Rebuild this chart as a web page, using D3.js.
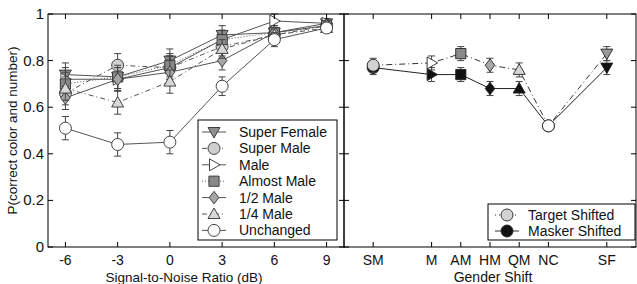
<!DOCTYPE html>
<html>
<head>
<meta charset="utf-8">
<script src="https://cdn.jsdelivr.net/npm/d3@7"></script>
<style>
  body { margin: 0; background: #fff; }
  text { font-family: "Liberation Sans", Arial, sans-serif; fill: #111; }
</style>
</head>
<body>
<svg id="chart" width="637" height="284"></svg>
<script>
// left panel: P(correct) vs SNR, one series per gender shift condition
const snr = [-6, -3, 0, 3, 6, 9];
const seriesNames = ["Super Female", "Super Male", "Male", "Almost Male", "1/2 Male", "1/4 Male", "Unchanged"];
const superFemale = [0.74, 0.73, 0.80, 0.91, 0.92, 0.96];
const superMale   = [0.66, 0.78, 0.77, 0.86, 0.91, 0.95];
const male        = [0.72, 0.72, 0.77, 0.89, 0.97, 0.96];
const almostMale  = [0.70, 0.73, 0.78, 0.89, 0.92, 0.95];
const halfMale    = [0.64, 0.72, 0.75, 0.80, 0.92, 0.95];
const quarterMale = [0.68, 0.62, 0.71, 0.85, 0.91, 0.94];
const unchanged   = [0.51, 0.44, 0.45, 0.69, 0.89, 0.94];
const snrErr      = [0.05, 0.05, 0.05, 0.04, 0.03, 0.02];
const snrTicks = [-6, -3, 0, 3, 6, 9];
const yTicks = [0, 0.2, 0.4, 0.6, 0.8, 1];

// right panel: target vs masker shifted
const shiftLabels = ["SM", "M", "AM", "HM", "QM", "NC", "SF"];
const targetShifted = [0.78, 0.79, 0.83, 0.78, 0.76, 0.52, 0.83];
const maskerShifted = [0.77, 0.74, 0.74, 0.68, 0.68, 0.52, 0.77];
const shiftErr = [0.03, 0.03, 0.03, 0.03, 0.03, 0.02, 0.03];
const shiftNames = ["Target Shifted", "Masker Shifted"];

const leftData = [superFemale, superMale, male, almostMale, halfMale, quarterMale, unchanged];

// styles (not data)
const leftStyle = [
  { shape: "down", fill: "#8e8e8e", dash: null },
  { shape: "circle", fill: "#cfcfcf", dash: "5,3,1,3" },
  { shape: "right", fill: "#fff", dash: null },
  { shape: "square", fill: "#888", dash: "1,2" },
  { shape: "diamond", fill: "#a5a5a5", dash: null },
  { shape: "up", fill: "#d8d8d8", dash: "5,3,1,3" },
  { shape: "circle", fill: "#fff", dash: null }
];
const shiftShapes = ["circle", "right", "square", "diamond", "up", "circle", "down"];
const targetFills = ["#d2d2d2", "#fff", "#8a8a8a", "#a8a8a8", "#d6d6d6", "#fff", "#999"];

const svg = d3.select("#chart");
const plotTop = 14, plotBottom = 247;
const leftX0 = 48, midX = 344, rightX1 = 636;

const y = d3.scaleLinear().domain([0, 1]).range([plotBottom, plotTop]);
const xSnr = d3.scaleLinear().domain([-7, 10]).range([leftX0, midX]);
const xShiftLin = d3.scaleLinear().domain([0, 10]).range([midX, rightX1]);
const xShift = d3.scaleOrdinal().domain(shiftLabels).range([1, 3, 4, 5, 6, 7, 9].map(xShiftLin));

function shapePath(shape, r) {
  switch (shape) {
    case "circle": return d3.symbol(d3.symbolCircle, Math.PI * r * r)();
    case "square": { const s = r * 0.85; return `M${-s},${-s}H${s}V${s}H${-s}Z`; }
    case "diamond": return `M0,${-r * 1.05}L${r * 0.8},0L0,${r * 1.05}L${-r * 0.8},0Z`;
    case "down": return `M${-r},${-r * 0.75}L${r},${-r * 0.75}L0,${r}Z`;
    case "up": return `M${-r},${r * 0.75}L${r},${r * 0.75}L0,${-r}Z`;
    case "right": return `M${-r * 0.75},${-r}L${r},0L${-r * 0.75},${r}Z`;
  }
}

// ---------- left panel ----------
const gL = svg.append("g");
const line = d3.line().x((d, i) => xSnr(snr[i])).y(d => y(d));

leftData.forEach((vals, s) => {
  const st = leftStyle[s];
  gL.append("path")
    .attr("d", line(vals))
    .attr("fill", "none")
    .attr("stroke", "#555")
    .attr("stroke-width", 1)
    .attr("stroke-dasharray", st.dash);
});

leftData.forEach((vals, s) => {
  const st = leftStyle[s];
  const g = gL.append("g");
  vals.forEach((v, i) => {
    const cx = xSnr(snr[i]);
    const e = snrErr[i];
    g.append("path")
      .attr("d", `M${cx},${y(v - e)}V${y(v + e)}M${cx - 3.5},${y(v - e)}h7M${cx - 3.5},${y(v + e)}h7`)
      .attr("stroke", "#444").attr("stroke-width", 1).attr("fill", "none");
  });
  g.selectAll("path.mk").data(vals).enter().append("path")
    .attr("class", "mk")
    .attr("d", shapePath(st.shape, 6))
    .attr("transform", (d, i) => `translate(${xSnr(snr[i])},${y(d)})`)
    .attr("fill", st.fill)
    .attr("stroke", "#333")
    .attr("stroke-width", 0.9);
});

// frame + ticks (left)
gL.append("rect").attr("x", leftX0).attr("y", plotTop).attr("width", midX - leftX0).attr("height", plotBottom - plotTop)
  .attr("fill", "none").attr("stroke", "#000");
snrTicks.forEach(t => {
  gL.append("path").attr("d", `M${xSnr(t)},${plotBottom}v-5M${xSnr(t)},${plotTop}v5`).attr("stroke", "#000");
  gL.append("text").attr("x", xSnr(t)).attr("y", plotBottom + 18).attr("text-anchor", "middle")
    .attr("font-size", 14).text(t);
});
yTicks.forEach(t => {
  gL.append("path").attr("d", `M${leftX0},${y(t)}h5M${midX},${y(t)}h-5M${midX},${y(t)}h5M${rightX1},${y(t)}h-5`).attr("stroke", "#000");
  gL.append("text").attr("x", leftX0 - 4).attr("y", y(t) + 5).attr("text-anchor", "end")
    .attr("font-size", 15).text(d3.format("~g")(t));
});
gL.append("text").attr("x", (leftX0 + midX) / 2 - 12).attr("y", 282).attr("text-anchor", "middle")
  .attr("font-size", 13.5).text("Signal-to-Noise Ratio (dB)");
gL.append("text").attr("transform", `translate(17,${(plotTop + plotBottom) / 2}) rotate(-90)`)
  .attr("text-anchor", "middle").attr("font-size", 13.5).text("P(correct color and number)");

// legend (left)
const legL = gL.append("g");
legL.append("rect").attr("x", 198).attr("y", 120).attr("width", 139).attr("height", 120)
  .attr("fill", "#fff").attr("stroke", "#000");
seriesNames.forEach((name, s) => {
  const st = leftStyle[s];
  const ly = 132 + s * 16.4;
  legL.append("path").attr("d", `M202,${ly}H226`).attr("stroke", "#555")
    .attr("stroke-dasharray", st.dash);
  legL.append("path").attr("d", shapePath(st.shape, 6)).attr("transform", `translate(214,${ly})`)
    .attr("fill", st.fill).attr("stroke", "#333").attr("stroke-width", 0.9);
  legL.append("text").attr("x", 239).attr("y", ly + 5).attr("font-size", 14).text(name);
});

// ---------- right panel ----------
const gR = svg.append("g");
const lineR = d3.line().x((d, i) => xShift(shiftLabels[i])).y(d => y(d));
gR.append("path").attr("d", lineR(targetShifted)).attr("fill", "none")
  .attr("stroke", "#333").attr("stroke-dasharray", "6,3,1,3");
gR.append("path").attr("d", lineR(maskerShifted)).attr("fill", "none").attr("stroke", "#222");

[[maskerShifted, true], [targetShifted, false]].forEach(([vals, masker]) => {
  vals.forEach((v, i) => {
    const cx = xShift(shiftLabels[i]);
    const e = shiftErr[i];
    gR.append("path")
      .attr("d", `M${cx},${y(v - e)}V${y(v + e)}M${cx - 3.5},${y(v - e)}h7M${cx - 3.5},${y(v + e)}h7`)
      .attr("stroke", "#444").attr("fill", "none");
    const nc = shiftLabels[i] === "NC";
    gR.append("path").attr("d", shapePath(shiftShapes[i], 6))
      .attr("transform", `translate(${cx},${y(v)})`)
      .attr("fill", masker ? (nc ? "#fff" : "#111") : targetFills[i])
      .attr("stroke", "#222").attr("stroke-width", 0.9);
  });
});

gR.append("rect").attr("x", midX).attr("y", plotTop).attr("width", rightX1 - midX).attr("height", plotBottom - plotTop)
  .attr("fill", "none").attr("stroke", "#000");
shiftLabels.forEach(c => {
  gR.append("path").attr("d", `M${xShift(c)},${plotBottom}v-5M${xShift(c)},${plotTop}v5`).attr("stroke", "#000");
  gR.append("text").attr("x", xShift(c)).attr("y", plotBottom + 18).attr("text-anchor", "middle")
    .attr("font-size", 14).text(c);
});
gR.append("text").attr("x", (midX + rightX1) / 2 + 3).attr("y", 282).attr("text-anchor", "middle")
  .attr("font-size", 14).text("Gender Shift");

// legend (right)
const legR = gR.append("g");
legR.append("rect").attr("x", 488).attr("y", 204).attr("width", 147).attr("height", 36)
  .attr("fill", "#fff").attr("stroke", "#000");
shiftNames.forEach((name, s) => {
  const ly = 215 + s * 16;
  legR.append("path").attr("d", `M495,${ly}H519`).attr("stroke", "#333")
    .attr("stroke-dasharray", s === 0 ? "1,3" : null);
  legR.append("path").attr("d", shapePath("circle", 6)).attr("transform", `translate(507,${ly})`)
    .attr("fill", s === 0 ? "#d2d2d2" : "#111").attr("stroke", "#222").attr("stroke-width", 0.9);
  legR.append("text").attr("x", 528).attr("y", ly + 5).attr("font-size", 14).text(name);
});
</script>
</body>
</html>
